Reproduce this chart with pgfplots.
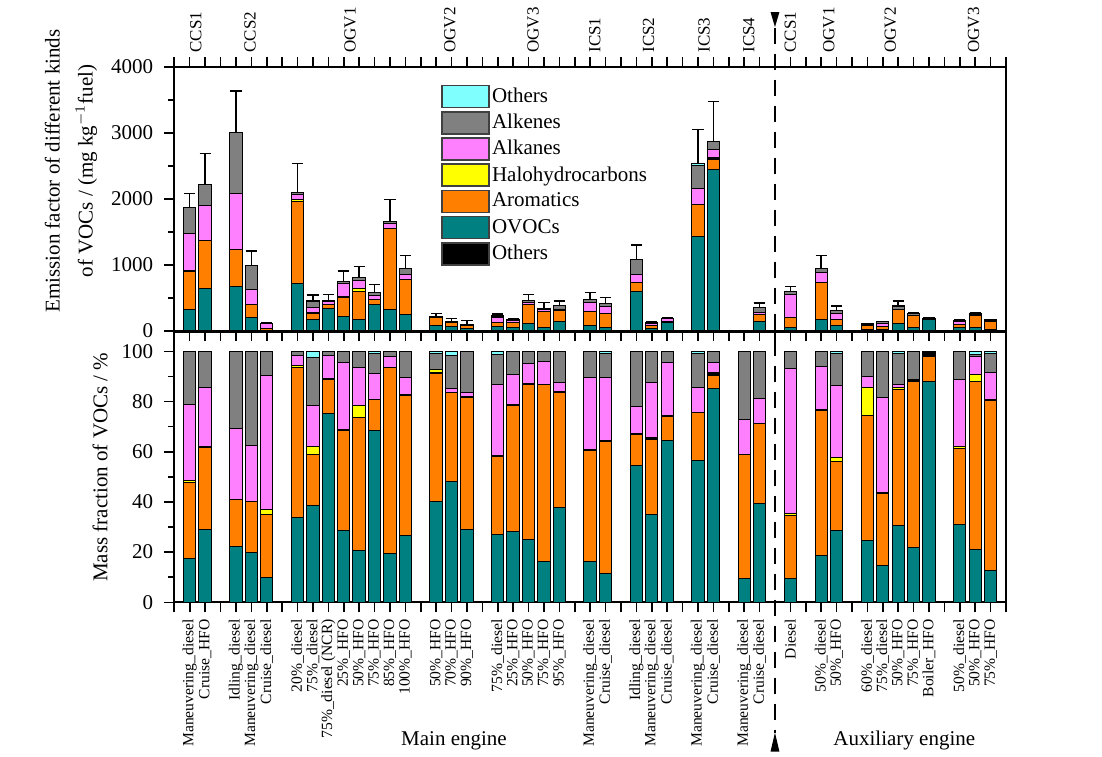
\documentclass[border=0pt]{standalone}
\usepackage{fontspec}
\setmainfont{Liberation Serif}
\usepackage{pgfplots}
\usepackage{pgfplotstable}
\pgfplotsset{compat=1.18}

\definecolor{cOVOC}{RGB}{0,128,128}
\definecolor{cArom}{RGB}{255,128,0}
\definecolor{cHalo}{RGB}{255,255,0}
\definecolor{cAlka}{RGB}{255,128,255}
\definecolor{cAlke}{RGB}{128,128,128}
\definecolor{cOth}{RGB}{128,255,255}

% mass fractions (%)
\pgfplotstableread{
x  o    a    k   h    p    g    c
1  17.5 30.3 0   0.9  30.3 21.0 0
2  29.1 32.5 0   0.3  23.8 14.3 0
4  22.4 18.4 0   0.2  28.2 30.8 0
5  19.9 20.2 0   0.2  22.1 37.6 0
6  10.0 24.8 0   2.0  53.4 9.8  0
8  33.9 59.6 0   0.9  4.0  1.6  0
9  38.4 20.6 0   3.0  16.6 19.0 2.4
10 75.3 13.3 0.6 0    9.3  1.5  0
11 28.6 39.8 0.5 0    26.7 4.4  0
12 20.6 53.0 0   5.0  15.0 6.4  0
13 68.3 12.6 0   0    10.2 8.1  0.8
14 19.3 74.2 0   0    4.6  1.9  0
15 26.8 55.7 0.3 0    6.7  10.5 0
17 40.2 50.8 0.7 0.9  0    6.7  0.7
18 48.3 35.1 0   0    1.6  13.5 1.5
19 29.1 52.4 0.4 0    1.6  16.5 0
21 27.2 30.8 0.5 0    28.1 12.3 1.1
22 28.3 50.2 0.3 0    12.0 9.2  0
23 25.2 61.7 0.2 0    8.1  4.8  0
24 16.1 70.5 0.2 0    9.0  4.2  0
25 37.8 45.7 0.3 0    3.7  12.5 0
27 16.2 44.2 0.4 0    28.7 10.5 0
28 11.4 52.6 0.3 0    25.2 9.8  0.7
30 54.4 12.5 0.3 0    10.9 21.9 0
31 34.8 30.1 0.6 0    22.0 12.5 0
32 64.5 9.7  0.3 0    21.1 4.4  0
34 56.6 19.0 0.2 0    9.6  13.8 0.8
35 85.3 5.1  1.1 0    4.0  4.5  0
37 9.6  49.1 0.3 0    13.9 27.1 0
38 39.2 32.0 0.2 0    9.7  18.9 0
40 9.3  25.1 0   1.1  57.5 7.0  0
42 18.7 57.9 0.3 0    17.0 6.1  0
43 28.8 27.5 0   1.3  28.6 13.0 0.8
45 24.6 49.9 0   11.0 4.4  10.1 0
46 14.7 28.7 0.3 0    38.0 18.3 0
47 30.5 54.1 0   0.8  1.3  12.5 0.8
48 21.8 66.1 0.8 0    0    11.3 0
49 87.9 10.0 1.5 0    0    0.6  0
51 31.1 30.0 0   0.9  26.6 11.4 0
52 21.2 66.7 0   2.9  7.1  1.0  1.1
53 12.6 68.0 0.4 0    10.6 7.7  0.7
}\pct

% emission factors (mg/kg fuel), total T and error E
\pgfplotstableread{
x  o      a      k    h    p     g     c    T    E
1  327.6  567.2  0    16.8 567.2 393.1 0    1872 213
2  644.9  720.2  0    6.6  527.4 316.9 0    2216 476
4  674.5  554.0  0    6.0  849.1 927.4 0    3011 627
5  198.4  201.4  0    2.0  220.3 374.9 0    997  212
6  12.1   30.0   0    2.4  64.6  11.9  0    121  0
8  713.6  1254.6 0    18.9 84.2  33.7  0    2105 435
9  174.7  93.7   0    13.7 75.5  86.5  10.9 455  91
10 342.6  60.5   2.7  0    42.3  6.8   0    455  102
11 214.2  298.1  3.7  0    200.0 33.0  0    749  162
12 166.9  429.3  0    40.5 121.5 51.8  0    810  167
13 400.9  74.0   0    0    59.9  47.5  4.7  587  121
14 319.4  1228.0 0    0    76.1  31.4  0    1655 339
15 254.9  529.7  2.9  0    63.7  99.9  0    951  193
17 87.6   110.7  1.5  2.0  0     14.6  1.5  218  50
18 72.5   52.7   0    0    2.4   20.3  2.3  150  40
19 30.8   55.5   0.4  0    1.7   17.5  0    106  54
21 62.0   70.2   1.1  0    64.1  28.0  2.5  228  30
22 47.3   83.8   0.5  0    20.0  15.4  0    167  20
23 114.7  280.7  0.9  0    36.9  21.8  0    455  102
24 55.4   242.5  0.7  0    31.0  14.4  0    344  86
25 143.6  173.7  1.1  0    14.1  47.5  0    380  75
27 77.9   212.6  1.9  0    138.0 50.5  0    481  106
28 47.9   220.9  1.3  0    105.8 41.2  2.9  420  91
30 591.9  136.0  3.3  0    118.6 238.3 0    1088 217
31 44.2   38.2   0.8  0    27.9  15.9  0    127  15
32 123.8  18.6   0.6  0    40.5  8.4   0    192  15
34 1434.8 481.7  5.1  0    243.4 349.8 20.3 2535 516
35 2451.5 146.6  31.6 0    115.0 129.3 0    2874 602
37 0      0      0    0    0     0     0    nan  0
38 138.8  113.3  0.7  0    34.3  66.9  0    354  71
40 55.5   149.8  0    6.6  343.3 41.8  0    597  81
42 177.8  550.6  2.9  0    161.7 58.0  0    951  193
43 90.4   86.4   0    4.1  89.8  40.8  2.5  314  66
45 26.1   52.9   0    11.7 4.7   10.7  0    106  0
46 21.6   42.2   0.4  0    55.9  26.9  0    147  0
47 115.9  205.6  0    3.0  4.9   47.5  3.0  380  75
48 58.4   177.1  2.1  0    0     30.3  0    268  10
49 168.8  19.2   2.9  0    0     1.2   0    192  10
51 48.8   47.1   0    1.4  41.8  17.9  0    157  10
52 56.8   178.8  0    7.8  19.0  2.7   2.9  268  15
53 22.3   120.4  0.7  0    18.8  13.6  1.2  177  0
}\ef

\pgfplotsset{
  myax/.style={
    scale only axis, width=415.85pt, xmin=0, xmax=54,
    xtick={0,...,54}, tick align=outside,
    major tick length=5pt, minor tick length=3pt,
    axis line style={line width=1pt},
    every tick/.append style={line width=0.8pt, black},
    ytick pos=left, minor y tick num=1,
    /pgf/number format/assume math mode=true,
    /pgf/number format/1000 sep={},
    scaled y ticks=false,
    yticklabel style={font=\fontsize{10.5}{12}\selectfont, xshift=-2pt},
    ybar stacked, bar width=6.15pt,
    clip=false,
  },
  seg/.style={forget plot, fill=#1, draw=black, line width=0.5pt},
}

\begin{document}
\begin{tikzpicture}
% ---------------- top: emission factors ----------------
\begin{axis}[myax, name=top, at={(0pt,0pt)}, anchor=north west,
  height=132pt, ymin=0, ymax=4000, ytick={0,1000,2000,3000,4000},
  xtick pos=both, xticklabels={,,},
  ylabel={Emission factor of different kinds\\of VOCs / (mg kg$^{-1}$fuel)},
  ylabel style={align=center, font=\fontsize{10.5}{16.5}\selectfont,
    at={(axis description cs:-0.1242,0.606)}, anchor=center},
  legend image code/.code={\draw[#1] (0pt,-5.5pt) rectangle (23.5pt,5.5pt);},
  legend style={at={(axis description cs:0.3207,0.934)}, anchor=north west,
    draw=none, fill=none, inner sep=0pt, row sep=1.3pt,
    font=\fontsize{10.5}{12}\selectfont,
    nodes={inner sep=1pt}},
  legend cell align=left,
]
\addplot[seg=cOVOC] table[x=x,y=o]{\ef};
\addplot[seg=cArom] table[x=x,y=a]{\ef};
\addplot[seg=black] table[x=x,y=k]{\ef};
\addplot[seg=cHalo] table[x=x,y=h]{\ef};
\addplot[seg=cAlka] table[x=x,y=p]{\ef};
\addplot[seg=cAlke] table[x=x,y=g]{\ef};
\addplot[seg=cOth] table[x=x,y=c]{\ef};
\addlegendimage{fill=cOth, draw=black!75, line width=0.8pt}
\addlegendentry{Others}
\addlegendimage{fill=cAlke, draw=black!75, line width=0.8pt}
\addlegendentry{Alkenes}
\addlegendimage{fill=cAlka, draw=black!75, line width=0.8pt}
\addlegendentry{Alkanes}
\addlegendimage{fill=cHalo, draw=black!75, line width=0.8pt}
\addlegendentry{Halohydrocarbons}
\addlegendimage{fill=cArom, draw=black!75, line width=0.8pt}
\addlegendentry{Aromatics}
\addlegendimage{fill=cOVOC, draw=black!75, line width=0.8pt}
\addlegendentry{OVOCs}
\addlegendimage{fill=black, draw=black!75, line width=0.8pt}
\addlegendentry{Others}
\tikzset{grp/.style={rotate=90, anchor=west, inner sep=0pt, font=\fontsize{8.5}{10}\selectfont}}
\node[grp] at (axis cs:1.39,4212) {CCS1};
\node[grp] at (axis cs:4.92,4212) {CCS2};
\node[grp] at (axis cs:11.41,4212) {OGV1};
\node[grp] at (axis cs:17.9,4212) {OGV2};
\node[grp] at (axis cs:23.3,4212) {OGV3};
\node[grp] at (axis cs:27.3,4212) {ICS1};
\node[grp] at (axis cs:30.8,4212) {ICS2};
\node[grp] at (axis cs:34.4,4212) {ICS3};
\node[grp] at (axis cs:37.3,4212) {ICS4};
\node[grp] at (axis cs:40.0,4212) {CCS1};
\node[grp] at (axis cs:42.5,4212) {OGV1};
\node[grp] at (axis cs:46.5,4212) {OGV2};
\node[grp] at (axis cs:51.9,4212) {OGV3};
\end{axis}

% error bars (overlay, not stacked)
\begin{axis}[scale only axis, width=415.85pt, height=132pt,
  at={(0pt,0pt)}, anchor=north west,
  xmin=0, xmax=54, ymin=0, ymax=4000, hide axis, clip=false]
\addplot[draw=none, mark=none,
  error bars/.cd, y dir=plus, y explicit, error mark=|,
  error bar style={draw=black, solid, line width=0.7pt},
  error mark options={draw=black, solid, line width=0.7pt, mark size=2.8pt}]
  table[x=x, y=T, y error=E]{\ef};
\end{axis}

% ---------------- bottom: mass fractions ----------------
\begin{axis}[myax, at={(0pt,-132.5pt)}, anchor=north west,
  height=135.15pt, ymin=0, ymax=107.7, ytick={0,20,40,60,80,100},
  xtick pos=bottom,
  xticklabels={{},Maneuvering\_diesel,Cruise\_HFO,{},Idling\_diesel,Maneuvering\_diesel,Cruise\_diesel,{},
    20\%\_diesel,75\%\_diesel,75\%\_diesel (NCR),25\%\_HFO,50\%\_HFO,75\%\_HFO,85\%\_HFO,100\%\_HFO,{},
    50\%\_HFO,70\%\_HFO,90\%\_HFO,{},
    75\%\_diesel,25\%\_HFO,50\%\_HFO,75\%\_HFO,95\%\_HFO,{},
    Maneuvering\_diesel,Cruise\_diesel,{},
    Idling\_diesel,Maneuvering\_diesel,Cruise\_diesel,{},
    Maneuvering\_diesel,Cruise\_diesel,{},
    Maneuvering\_diesel,Cruise\_diesel,{},
    Diesel,{},50\%\_diesel,50\%\_HFO,{},
    60\%\_diesel,75\%\_diesel,50\%\_HFO,75\%\_HFO,Boiler\_HFO,{},
    50\%\_diesel,50\%\_HFO,75\%\_HFO,{}},
  xticklabel style={rotate=90, anchor=east, font=\fontsize{7.8}{9}\selectfont},
  ylabel={Mass fraction of VOCs / \%},
  ylabel style={font=\fontsize{10.5}{12}\selectfont,
    at={(axis description cs:-0.0893,0.5)}, anchor=center},
]
\addplot[seg=cOVOC] table[x=x,y=o]{\pct};
\addplot[seg=cArom] table[x=x,y=a]{\pct};
\addplot[seg=black] table[x=x,y=k]{\pct};
\addplot[seg=cHalo] table[x=x,y=h]{\pct};
\addplot[seg=cAlka] table[x=x,y=p]{\pct};
\addplot[seg=cAlke] table[x=x,y=g]{\pct};
\addplot[seg=cOth] table[x=x,y=c]{\pct};
\draw[line width=1.4pt, dash pattern=on 8pt off 5pt] (axis cs:39,229) -- (axis cs:39,-52);
\fill (axis cs:38.71,235.2) -- (axis cs:39.29,235.2) -- (axis cs:39,229.2) -- cycle;
\fill (axis cs:38.71,-59.5) -- (axis cs:39.29,-59.5) -- (axis cs:39,-51.9) -- cycle;
\node[font=\fontsize{10.5}{12}\selectfont] at (axis cs:18.16,-55) {Main engine};
\node[font=\fontsize{10.5}{12}\selectfont] at (axis cs:47.4,-55) {Auxiliary engine};
\end{axis}

\path (-87.15pt,33.5pt) rectangle (463.85pt,-343pt);
\end{tikzpicture}
\end{document}
